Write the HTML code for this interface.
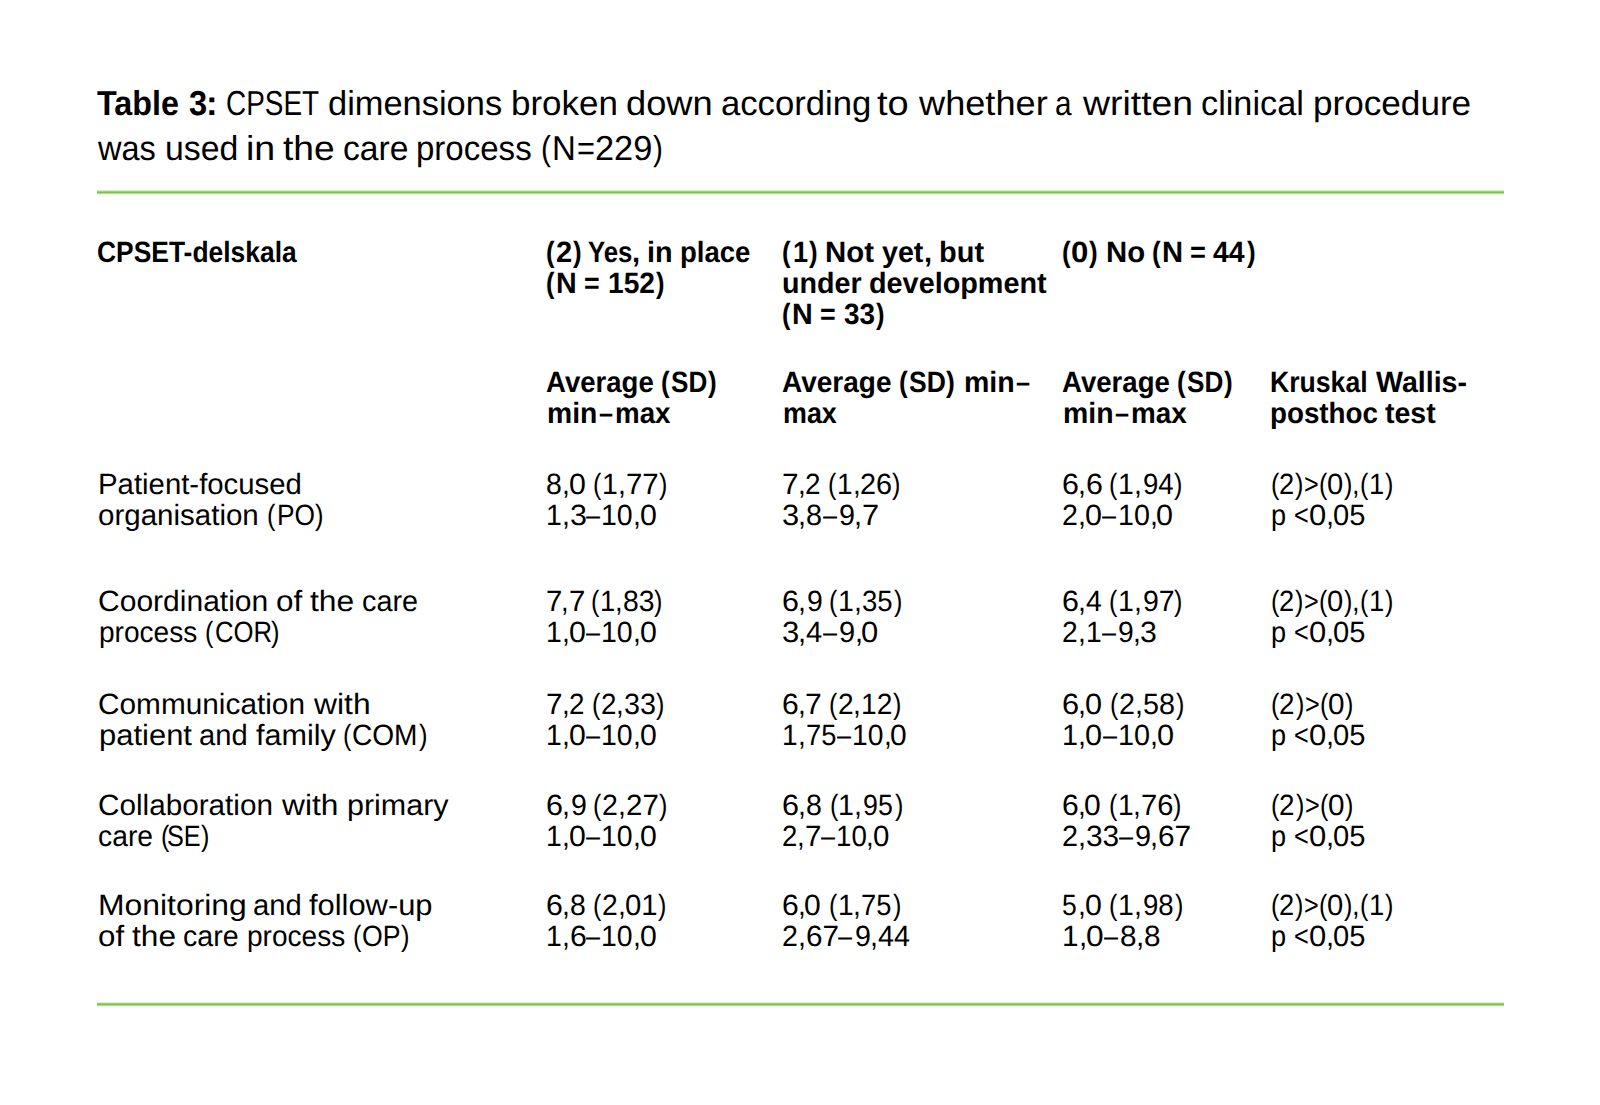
<!DOCTYPE html>
<html><head><meta charset="utf-8"><title>Table 3</title><style>
html,body{margin:0;padding:0;background:#fff}
body{width:1600px;height:1105px;overflow:hidden;position:relative;font-family:"Liberation Sans",sans-serif;color:#000}
.w{position:absolute;white-space:pre;line-height:0;transform-origin:0 0;text-rendering:geometricPrecision}
.b{font-weight:bold}
.t{font-size:34.6px}
.s{font-size:29.3px}
.g{position:absolute;left:97px;width:1407px;height:5px;background:linear-gradient(to bottom,rgba(125,194,75,.25) 0,rgba(125,194,75,.25) 20%,rgba(125,194,75,.78) 20%,rgba(125,194,75,.78) 40%,#7dc24b 40%,#7dc24b 60%,rgba(125,194,75,.6) 60%,rgba(125,194,75,.6) 80%,rgba(125,194,75,.12) 80%)}
</style></head><body>
<div class="w t b" style="left:97.00px;top:104.20px;transform:scaleX(0.9343)">Table</div>
<div class="w t b" style="left:189.19px;top:104.20px;transform:scaleX(0.9451)">3</div>
<div class="w t b" style="left:206.25px;top:104.20px;transform:scaleX(1.0007)">:</div>
<div class="w t" style="left:226.32px;top:104.20px;transform:scaleX(0.8070)">CPSET</div>
<div class="w t" style="left:328.08px;top:104.20px;transform:scaleX(0.9955)">dimensions</div>
<div class="w t" style="left:511.08px;top:104.20px;transform:scaleX(1.0119)">broken</div>
<div class="w t" style="left:626.00px;top:104.20px;transform:scaleX(1.0492)">down</div>
<div class="w t" style="left:720.63px;top:104.20px;transform:scaleX(1.0027)">according</div>
<div class="w t" style="left:877.36px;top:104.20px;transform:scaleX(1.1000)">to</div>
<div class="w t" style="left:918.53px;top:104.20px;transform:scaleX(1.0463)">whether</div>
<div class="w t" style="left:1054.78px;top:104.20px;transform:scaleX(0.8600)">a</div>
<div class="w t" style="left:1082.90px;top:104.20px;transform:scaleX(1.0813)">written</div>
<div class="w t" style="left:1200.87px;top:104.20px;transform:scaleX(0.9908)">clinical</div>
<div class="w t" style="left:1313.12px;top:104.20px;transform:scaleX(1.0156)">procedure</div>
<div class="w t" style="left:97.94px;top:149.20px;transform:scaleX(0.9405)">was</div>
<div class="w t" style="left:164.75px;top:149.20px;transform:scaleX(0.9782)">used</div>
<div class="w t" style="left:245.99px;top:149.20px;transform:scaleX(1.0867)">in</div>
<div class="w t" style="left:283.07px;top:149.20px;transform:scaleX(1.0757)">the</div>
<div class="w t" style="left:342.68px;top:149.20px;transform:scaleX(0.9726)">care</div>
<div class="w t" style="left:416.20px;top:149.20px;transform:scaleX(0.9552)">process</div>
<div class="w t" style="left:540.75px;top:149.20px;transform:scaleX(0.8600)">(</div>
<div class="w t" style="left:552.27px;top:149.20px;transform:scaleX(0.9534)">N</div>
<div class="w t" style="left:576.57px;top:149.20px;transform:scaleX(0.8898)">=</div>
<div class="w t" style="left:595.20px;top:149.20px;transform:scaleX(0.9944)">229</div>
<div class="w t" style="left:653.10px;top:149.20px;transform:scaleX(0.8600)">)</div>
<div class="w s b" style="left:97.10px;top:253.00px;transform:scaleX(0.9016)">CPSET-delskala</div>
<div class="w s b" style="left:546.12px;top:253.00px;transform:scaleX(0.8822)">(</div>
<div class="w s b" style="left:555.99px;top:253.00px;transform:scaleX(0.9925)">2</div>
<div class="w s b" style="left:573.23px;top:253.00px;transform:scaleX(0.8822)">)</div>
<div class="w s b" style="left:588.48px;top:253.00px;transform:scaleX(0.8785)">Yes</div>
<div class="w s b" style="left:632.48px;top:253.00px;transform:scaleX(0.9925)">,</div>
<div class="w s b" style="left:647.02px;top:253.00px;transform:scaleX(0.9836)">in</div>
<div class="w s b" style="left:680.36px;top:253.00px;transform:scaleX(0.9399)">place</div>
<div class="w s b" style="left:546.13px;top:284.00px;transform:scaleX(0.8693)">(</div>
<div class="w s b" style="left:555.86px;top:284.00px;transform:scaleX(0.9779)">N</div>
<div class="w s b" style="left:583.87px;top:284.00px;transform:scaleX(0.9127)">=</div>
<div class="w s b" style="left:607.67px;top:284.00px;transform:scaleX(0.9605)">152</div>
<div class="w s b" style="left:655.68px;top:284.00px;transform:scaleX(0.8693)">)</div>
<div class="w s b" style="left:782.12px;top:253.00px;transform:scaleX(0.8811)">(</div>
<div class="w s b" style="left:793.04px;top:253.00px;transform:scaleX(0.9251)">1</div>
<div class="w s b" style="left:809.20px;top:253.00px;transform:scaleX(0.8811)">)</div>
<div class="w s b" style="left:825.41px;top:253.00px;transform:scaleX(1.0032)">Not</div>
<div class="w s b" style="left:882.05px;top:253.00px;transform:scaleX(0.9769)">yet</div>
<div class="w s b" style="left:923.85px;top:253.00px;transform:scaleX(0.9912)">,</div>
<div class="w s b" style="left:939.34px;top:253.00px;transform:scaleX(0.9884)">but</div>
<div class="w s b" style="left:782.02px;top:284.00px;transform:scaleX(0.9788)">under</div>
<div class="w s b" style="left:869.09px;top:284.00px;transform:scaleX(0.9832)">development</div>
<div class="w s b" style="left:782.13px;top:315.00px;transform:scaleX(0.8711)">(</div>
<div class="w s b" style="left:791.88px;top:315.00px;transform:scaleX(0.9799)">N</div>
<div class="w s b" style="left:819.95px;top:315.00px;transform:scaleX(0.9146)">=</div>
<div class="w s b" style="left:843.78px;top:315.00px;transform:scaleX(0.9519)">33</div>
<div class="w s b" style="left:875.86px;top:315.00px;transform:scaleX(0.8711)">)</div>
<div class="w s b" style="left:1062.11px;top:253.00px;transform:scaleX(0.8866)">(</div>
<div class="w s b" style="left:1070.97px;top:253.00px;transform:scaleX(1.0639)">0</div>
<div class="w s b" style="left:1089.36px;top:253.00px;transform:scaleX(0.8866)">)</div>
<div class="w s b" style="left:1105.68px;top:253.00px;transform:scaleX(1.0006)">No</div>
<div class="w s b" style="left:1151.61px;top:253.00px;transform:scaleX(0.8866)">(</div>
<div class="w s b" style="left:1161.54px;top:253.00px;transform:scaleX(0.9974)">N</div>
<div class="w s b" style="left:1190.11px;top:253.00px;transform:scaleX(0.9309)">=</div>
<div class="w s b" style="left:1213.37px;top:253.00px;transform:scaleX(0.9697)">44</div>
<div class="w s b" style="left:1247.02px;top:253.00px;transform:scaleX(0.8866)">)</div>
<div class="w s b" style="left:546.00px;top:383.00px;transform:scaleX(0.9408)">Average</div>
<div class="w s b" style="left:661.14px;top:383.00px;transform:scaleX(0.8871)">(</div>
<div class="w s b" style="left:671.07px;top:383.00px;transform:scaleX(0.8900)">SD</div>
<div class="w s b" style="left:707.62px;top:383.00px;transform:scaleX(0.8871)">)</div>
<div class="w s b" style="left:547.03px;top:414.00px;transform:scaleX(0.9660)">min</div>
<div class="w s b" style="left:598.99px;top:414.00px;transform:scaleX(0.8600)">–</div>
<div class="w s b" style="left:615.07px;top:414.00px;transform:scaleX(0.9467)">max</div>
<div class="w s b" style="left:782.00px;top:383.00px;transform:scaleX(0.9557)">Average</div>
<div class="w s b" style="left:898.96px;top:383.00px;transform:scaleX(0.9011)">(</div>
<div class="w s b" style="left:909.05px;top:383.00px;transform:scaleX(0.9041)">SD</div>
<div class="w s b" style="left:946.17px;top:383.00px;transform:scaleX(0.9011)">)</div>
<div class="w s b" style="left:963.82px;top:383.00px;transform:scaleX(0.9737)">min</div>
<div class="w s b" style="left:1016.24px;top:383.00px;transform:scaleX(0.8600)">–</div>
<div class="w s b" style="left:783.08px;top:414.00px;transform:scaleX(0.9170)">max</div>
<div class="w s b" style="left:1062.00px;top:383.00px;transform:scaleX(0.9413)">Average</div>
<div class="w s b" style="left:1177.21px;top:383.00px;transform:scaleX(0.8876)">(</div>
<div class="w s b" style="left:1187.14px;top:383.00px;transform:scaleX(0.8906)">SD</div>
<div class="w s b" style="left:1223.71px;top:383.00px;transform:scaleX(0.8876)">)</div>
<div class="w s b" style="left:1063.03px;top:414.00px;transform:scaleX(0.9696)">min</div>
<div class="w s b" style="left:1115.20px;top:414.00px;transform:scaleX(0.8600)">–</div>
<div class="w s b" style="left:1131.31px;top:414.00px;transform:scaleX(0.9502)">max</div>
<div class="w s b" style="left:1270.09px;top:383.00px;transform:scaleX(0.9080)">Kruskal</div>
<div class="w s b" style="left:1375.93px;top:383.00px;transform:scaleX(0.9752)">Wallis-</div>
<div class="w s b" style="left:1270.05px;top:414.00px;transform:scaleX(0.9478)">posthoc</div>
<div class="w s b" style="left:1384.61px;top:414.00px;transform:scaleX(0.9722)">test</div>
<div class="w s" style="left:98.00px;top:485.00px;transform:scaleX(1.0016)">Patient-focused</div>
<div class="w s" style="left:97.99px;top:516.00px;transform:scaleX(1.0071)">organisation</div>
<div class="w s" style="left:267.42px;top:516.00px;transform:scaleX(0.8600)">(</div>
<div class="w s" style="left:276.62px;top:516.00px;transform:scaleX(0.8986)">PO</div>
<div class="w s" style="left:315.33px;top:516.00px;transform:scaleX(0.8712)">)</div>
<div class="w s" style="left:546.03px;top:485.00px;transform:scaleX(0.9700)">8</div>
<div class="w s" style="left:561.91px;top:485.00px;transform:scaleX(0.9700)">,</div>
<div class="w s" style="left:568.69px;top:485.00px;transform:scaleX(1.0347)">0</div>
<div class="w s" style="left:593.29px;top:485.00px;transform:scaleX(0.8600)">(</div>
<div class="w s" style="left:602.19px;top:485.00px;transform:scaleX(0.9700)">1</div>
<div class="w s" style="left:618.07px;top:485.00px;transform:scaleX(0.9700)">,</div>
<div class="w s" style="left:625.85px;top:485.00px;transform:scaleX(1.0045)">77</div>
<div class="w s" style="left:658.56px;top:485.00px;transform:scaleX(0.8600)">)</div>
<div class="w s" style="left:546.06px;top:516.00px;transform:scaleX(0.9706)">1</div>
<div class="w s" style="left:561.95px;top:516.00px;transform:scaleX(0.9706)">,</div>
<div class="w s" style="left:569.70px;top:516.00px;transform:scaleX(1.0400)">3</div>
<div class="w s" style="left:586.11px;top:516.00px;transform:scaleX(0.8600)">–</div>
<div class="w s" style="left:601.27px;top:516.00px;transform:scaleX(0.9731)">10</div>
<div class="w s" style="left:633.05px;top:516.00px;transform:scaleX(0.9706)">,</div>
<div class="w s" style="left:639.83px;top:516.00px;transform:scaleX(1.0353)">0</div>
<div class="w s" style="left:781.98px;top:485.00px;transform:scaleX(1.0183)">7</div>
<div class="w s" style="left:797.61px;top:485.00px;transform:scaleX(0.9504)">,</div>
<div class="w s" style="left:805.26px;top:485.00px;transform:scaleX(0.9504)">2</div>
<div class="w s" style="left:828.26px;top:485.00px;transform:scaleX(0.8600)">(</div>
<div class="w s" style="left:837.07px;top:485.00px;transform:scaleX(0.9504)">1</div>
<div class="w s" style="left:852.62px;top:485.00px;transform:scaleX(0.9504)">,</div>
<div class="w s" style="left:860.25px;top:485.00px;transform:scaleX(0.9841)">26</div>
<div class="w s" style="left:892.23px;top:485.00px;transform:scaleX(0.8600)">)</div>
<div class="w s" style="left:781.95px;top:516.00px;transform:scaleX(1.0513)">3</div>
<div class="w s" style="left:798.08px;top:516.00px;transform:scaleX(0.9812)">,</div>
<div class="w s" style="left:805.99px;top:516.00px;transform:scaleX(0.9812)">8</div>
<div class="w s" style="left:822.59px;top:516.00px;transform:scaleX(0.8600)">–</div>
<div class="w s" style="left:838.81px;top:516.00px;transform:scaleX(0.9812)">9</div>
<div class="w s" style="left:853.89px;top:516.00px;transform:scaleX(0.9812)">,</div>
<div class="w s" style="left:861.73px;top:516.00px;transform:scaleX(1.0513)">7</div>
<div class="w s" style="left:1061.96px;top:485.00px;transform:scaleX(1.0384)">6</div>
<div class="w s" style="left:1077.90px;top:485.00px;transform:scaleX(0.9692)">,</div>
<div class="w s" style="left:1085.64px;top:485.00px;transform:scaleX(1.0384)">6</div>
<div class="w s" style="left:1109.25px;top:485.00px;transform:scaleX(0.8600)">(</div>
<div class="w s" style="left:1118.14px;top:485.00px;transform:scaleX(0.9692)">1</div>
<div class="w s" style="left:1134.01px;top:485.00px;transform:scaleX(0.9692)">,</div>
<div class="w s" style="left:1142.81px;top:485.00px;transform:scaleX(0.9406)">94</div>
<div class="w s" style="left:1174.47px;top:485.00px;transform:scaleX(0.8600)">)</div>
<div class="w s" style="left:1062.02px;top:516.00px;transform:scaleX(0.9762)">2</div>
<div class="w s" style="left:1078.00px;top:516.00px;transform:scaleX(0.9762)">,</div>
<div class="w s" style="left:1084.83px;top:516.00px;transform:scaleX(1.0413)">0</div>
<div class="w s" style="left:1102.35px;top:516.00px;transform:scaleX(0.8600)">–</div>
<div class="w s" style="left:1117.55px;top:516.00px;transform:scaleX(0.9787)">10</div>
<div class="w s" style="left:1149.51px;top:516.00px;transform:scaleX(0.9762)">,</div>
<div class="w s" style="left:1156.34px;top:516.00px;transform:scaleX(1.0413)">0</div>
<div class="w s" style="left:1270.53px;top:485.00px;transform:scaleX(0.8600)">(</div>
<div class="w s" style="left:1279.27px;top:485.00px;transform:scaleX(0.9328)">2</div>
<div class="w s" style="left:1295.30px;top:485.00px;transform:scaleX(0.8600)">)</div>
<div class="w s" style="left:1304.29px;top:485.00px;transform:scaleX(0.8600)">&gt;</div>
<div class="w s" style="left:1319.08px;top:485.00px;transform:scaleX(0.8600)">(</div>
<div class="w s" style="left:1326.82px;top:485.00px;transform:scaleX(0.9950)">0</div>
<div class="w s" style="left:1343.84px;top:485.00px;transform:scaleX(0.8600)">)</div>
<div class="w s" style="left:1352.22px;top:485.00px;transform:scaleX(0.9328)">,</div>
<div class="w s" style="left:1360.13px;top:485.00px;transform:scaleX(0.8600)">(</div>
<div class="w s" style="left:1368.87px;top:485.00px;transform:scaleX(0.9328)">1</div>
<div class="w s" style="left:1384.90px;top:485.00px;transform:scaleX(0.8600)">)</div>
<div class="w s" style="left:1271.08px;top:516.00px;transform:scaleX(0.9249)">p</div>
<div class="w s" style="left:1294.19px;top:516.00px;transform:scaleX(0.8600)">&lt;</div>
<div class="w s" style="left:1308.95px;top:516.00px;transform:scaleX(1.0570)">0</div>
<div class="w s" style="left:1326.23px;top:516.00px;transform:scaleX(0.9909)">,</div>
<div class="w s" style="left:1333.22px;top:516.00px;transform:scaleX(0.9933)">05</div>
<div class="w s" style="left:97.98px;top:602.00px;transform:scaleX(1.0247)">Coordination</div>
<div class="w s" style="left:276.09px;top:602.00px;transform:scaleX(1.0730)">of</div>
<div class="w s" style="left:310.40px;top:602.00px;transform:scaleX(1.0866)">the</div>
<div class="w s" style="left:361.65px;top:602.00px;transform:scaleX(0.9830)">care</div>
<div class="w s" style="left:99.04px;top:633.00px;transform:scaleX(0.9583)">process</div>
<div class="w s" style="left:205.38px;top:633.00px;transform:scaleX(0.8600)">(</div>
<div class="w s" style="left:214.51px;top:633.00px;transform:scaleX(0.8755)">COR</div>
<div class="w s" style="left:271.03px;top:633.00px;transform:scaleX(0.8717)">)</div>
<div class="w s" style="left:546.00px;top:602.00px;transform:scaleX(1.0016)">7</div>
<div class="w s" style="left:561.37px;top:602.00px;transform:scaleX(0.9348)">,</div>
<div class="w s" style="left:568.83px;top:602.00px;transform:scaleX(1.0016)">7</div>
<div class="w s" style="left:591.44px;top:602.00px;transform:scaleX(0.8600)">(</div>
<div class="w s" style="left:600.18px;top:602.00px;transform:scaleX(0.9348)">1</div>
<div class="w s" style="left:615.48px;top:602.00px;transform:scaleX(0.9348)">,</div>
<div class="w s" style="left:622.98px;top:602.00px;transform:scaleX(0.9680)">83</div>
<div class="w s" style="left:654.39px;top:602.00px;transform:scaleX(0.8600)">)</div>
<div class="w s" style="left:546.06px;top:633.00px;transform:scaleX(0.9706)">1</div>
<div class="w s" style="left:561.95px;top:633.00px;transform:scaleX(0.9706)">,</div>
<div class="w s" style="left:568.73px;top:633.00px;transform:scaleX(1.0353)">0</div>
<div class="w s" style="left:586.11px;top:633.00px;transform:scaleX(0.8600)">–</div>
<div class="w s" style="left:601.27px;top:633.00px;transform:scaleX(0.9731)">10</div>
<div class="w s" style="left:633.05px;top:633.00px;transform:scaleX(0.9706)">,</div>
<div class="w s" style="left:639.83px;top:633.00px;transform:scaleX(1.0353)">0</div>
<div class="w s" style="left:781.96px;top:602.00px;transform:scaleX(1.0384)">6</div>
<div class="w s" style="left:797.90px;top:602.00px;transform:scaleX(0.9692)">,</div>
<div class="w s" style="left:806.68px;top:602.00px;transform:scaleX(0.9692)">9</div>
<div class="w s" style="left:829.25px;top:602.00px;transform:scaleX(0.8600)">(</div>
<div class="w s" style="left:838.14px;top:602.00px;transform:scaleX(0.9692)">1</div>
<div class="w s" style="left:854.01px;top:602.00px;transform:scaleX(0.9692)">,</div>
<div class="w s" style="left:861.84px;top:602.00px;transform:scaleX(0.9406)">35</div>
<div class="w s" style="left:894.47px;top:602.00px;transform:scaleX(0.8600)">)</div>
<div class="w s" style="left:781.94px;top:633.00px;transform:scaleX(1.0613)">3</div>
<div class="w s" style="left:798.22px;top:633.00px;transform:scaleX(0.9906)">,</div>
<div class="w s" style="left:806.21px;top:633.00px;transform:scaleX(0.9906)">4</div>
<div class="w s" style="left:823.04px;top:633.00px;transform:scaleX(0.8600)">–</div>
<div class="w s" style="left:839.34px;top:633.00px;transform:scaleX(0.9906)">9</div>
<div class="w s" style="left:854.57px;top:633.00px;transform:scaleX(0.9906)">,</div>
<div class="w s" style="left:861.49px;top:633.00px;transform:scaleX(1.0566)">0</div>
<div class="w s" style="left:1061.96px;top:602.00px;transform:scaleX(1.0384)">6</div>
<div class="w s" style="left:1077.90px;top:602.00px;transform:scaleX(0.9692)">,</div>
<div class="w s" style="left:1085.71px;top:602.00px;transform:scaleX(0.9692)">4</div>
<div class="w s" style="left:1109.25px;top:602.00px;transform:scaleX(0.8600)">(</div>
<div class="w s" style="left:1118.14px;top:602.00px;transform:scaleX(0.9692)">1</div>
<div class="w s" style="left:1134.01px;top:602.00px;transform:scaleX(0.9692)">,</div>
<div class="w s" style="left:1142.78px;top:602.00px;transform:scaleX(0.9716)">97</div>
<div class="w s" style="left:1174.47px;top:602.00px;transform:scaleX(0.8600)">)</div>
<div class="w s" style="left:1062.04px;top:633.00px;transform:scaleX(0.9636)">2</div>
<div class="w s" style="left:1077.81px;top:633.00px;transform:scaleX(0.9636)">,</div>
<div class="w s" style="left:1085.57px;top:633.00px;transform:scaleX(0.9636)">1</div>
<div class="w s" style="left:1101.74px;top:633.00px;transform:scaleX(0.8600)">–</div>
<div class="w s" style="left:1117.81px;top:633.00px;transform:scaleX(0.9636)">9</div>
<div class="w s" style="left:1132.62px;top:633.00px;transform:scaleX(0.9636)">,</div>
<div class="w s" style="left:1140.31px;top:633.00px;transform:scaleX(1.0324)">3</div>
<div class="w s" style="left:1270.53px;top:602.00px;transform:scaleX(0.8600)">(</div>
<div class="w s" style="left:1279.27px;top:602.00px;transform:scaleX(0.9328)">2</div>
<div class="w s" style="left:1295.30px;top:602.00px;transform:scaleX(0.8600)">)</div>
<div class="w s" style="left:1304.29px;top:602.00px;transform:scaleX(0.8600)">&gt;</div>
<div class="w s" style="left:1319.08px;top:602.00px;transform:scaleX(0.8600)">(</div>
<div class="w s" style="left:1326.82px;top:602.00px;transform:scaleX(0.9950)">0</div>
<div class="w s" style="left:1343.84px;top:602.00px;transform:scaleX(0.8600)">)</div>
<div class="w s" style="left:1352.22px;top:602.00px;transform:scaleX(0.9328)">,</div>
<div class="w s" style="left:1360.13px;top:602.00px;transform:scaleX(0.8600)">(</div>
<div class="w s" style="left:1368.87px;top:602.00px;transform:scaleX(0.9328)">1</div>
<div class="w s" style="left:1384.90px;top:602.00px;transform:scaleX(0.8600)">)</div>
<div class="w s" style="left:1271.08px;top:633.00px;transform:scaleX(0.9249)">p</div>
<div class="w s" style="left:1294.19px;top:633.00px;transform:scaleX(0.8600)">&lt;</div>
<div class="w s" style="left:1308.95px;top:633.00px;transform:scaleX(1.0570)">0</div>
<div class="w s" style="left:1326.23px;top:633.00px;transform:scaleX(0.9909)">,</div>
<div class="w s" style="left:1333.22px;top:633.00px;transform:scaleX(0.9933)">05</div>
<div class="w s" style="left:97.98px;top:704.50px;transform:scaleX(1.0170)">Communication</div>
<div class="w s" style="left:314.00px;top:704.50px;transform:scaleX(1.0864)">with</div>
<div class="w s" style="left:98.94px;top:735.50px;transform:scaleX(1.0570)">patient</div>
<div class="w s" style="left:198.88px;top:735.50px;transform:scaleX(0.9957)">and</div>
<div class="w s" style="left:255.52px;top:735.50px;transform:scaleX(1.0439)">family</div>
<div class="w s" style="left:343.43px;top:735.50px;transform:scaleX(0.8600)">(</div>
<div class="w s" style="left:352.49px;top:735.50px;transform:scaleX(0.9585)">COM</div>
<div class="w s" style="left:419.31px;top:735.50px;transform:scaleX(0.8740)">)</div>
<div class="w s" style="left:545.99px;top:704.50px;transform:scaleX(1.0147)">7</div>
<div class="w s" style="left:561.56px;top:704.50px;transform:scaleX(0.9471)">,</div>
<div class="w s" style="left:569.19px;top:704.50px;transform:scaleX(0.9471)">2</div>
<div class="w s" style="left:592.09px;top:704.50px;transform:scaleX(0.8600)">(</div>
<div class="w s" style="left:600.88px;top:704.50px;transform:scaleX(0.9471)">2</div>
<div class="w s" style="left:616.38px;top:704.50px;transform:scaleX(0.9471)">,</div>
<div class="w s" style="left:623.98px;top:704.50px;transform:scaleX(0.9807)">33</div>
<div class="w s" style="left:655.85px;top:704.50px;transform:scaleX(0.8600)">)</div>
<div class="w s" style="left:546.07px;top:735.50px;transform:scaleX(0.9671)">1</div>
<div class="w s" style="left:561.90px;top:735.50px;transform:scaleX(0.9671)">,</div>
<div class="w s" style="left:568.66px;top:735.50px;transform:scaleX(1.0315)">0</div>
<div class="w s" style="left:585.95px;top:735.50px;transform:scaleX(0.8600)">–</div>
<div class="w s" style="left:601.07px;top:735.50px;transform:scaleX(0.9695)">10</div>
<div class="w s" style="left:632.73px;top:735.50px;transform:scaleX(0.9671)">,</div>
<div class="w s" style="left:639.50px;top:735.50px;transform:scaleX(1.0315)">0</div>
<div class="w s" style="left:781.97px;top:704.50px;transform:scaleX(1.0288)">6</div>
<div class="w s" style="left:797.76px;top:704.50px;transform:scaleX(0.9602)">,</div>
<div class="w s" style="left:805.43px;top:704.50px;transform:scaleX(1.0288)">7</div>
<div class="w s" style="left:828.78px;top:704.50px;transform:scaleX(0.8600)">(</div>
<div class="w s" style="left:837.63px;top:704.50px;transform:scaleX(0.9602)">2</div>
<div class="w s" style="left:853.35px;top:704.50px;transform:scaleX(0.9602)">,</div>
<div class="w s" style="left:861.08px;top:704.50px;transform:scaleX(0.9627)">12</div>
<div class="w s" style="left:893.40px;top:704.50px;transform:scaleX(0.8600)">)</div>
<div class="w s" style="left:782.08px;top:735.50px;transform:scaleX(0.9590)">1</div>
<div class="w s" style="left:797.78px;top:735.50px;transform:scaleX(0.9590)">,</div>
<div class="w s" style="left:805.54px;top:735.50px;transform:scaleX(0.9307)">75</div>
<div class="w s" style="left:837.27px;top:735.50px;transform:scaleX(0.8600)">–</div>
<div class="w s" style="left:852.33px;top:735.50px;transform:scaleX(0.9614)">10</div>
<div class="w s" style="left:883.73px;top:735.50px;transform:scaleX(0.9590)">,</div>
<div class="w s" style="left:890.43px;top:735.50px;transform:scaleX(1.0229)">0</div>
<div class="w s" style="left:1061.95px;top:704.50px;transform:scaleX(1.0499)">6</div>
<div class="w s" style="left:1078.06px;top:704.50px;transform:scaleX(0.9799)">,</div>
<div class="w s" style="left:1084.91px;top:704.50px;transform:scaleX(1.0452)">0</div>
<div class="w s" style="left:1109.81px;top:704.50px;transform:scaleX(0.8600)">(</div>
<div class="w s" style="left:1118.75px;top:704.50px;transform:scaleX(0.9799)">2</div>
<div class="w s" style="left:1134.79px;top:704.50px;transform:scaleX(0.9799)">,</div>
<div class="w s" style="left:1142.68px;top:704.50px;transform:scaleX(0.9822)">58</div>
<div class="w s" style="left:1175.73px;top:704.50px;transform:scaleX(0.8600)">)</div>
<div class="w s" style="left:1062.04px;top:735.50px;transform:scaleX(0.9814)">1</div>
<div class="w s" style="left:1078.10px;top:735.50px;transform:scaleX(0.9814)">,</div>
<div class="w s" style="left:1084.96px;top:735.50px;transform:scaleX(1.0468)">0</div>
<div class="w s" style="left:1102.62px;top:735.50px;transform:scaleX(0.8600)">–</div>
<div class="w s" style="left:1117.86px;top:735.50px;transform:scaleX(0.9838)">10</div>
<div class="w s" style="left:1149.99px;top:735.50px;transform:scaleX(0.9814)">,</div>
<div class="w s" style="left:1156.85px;top:735.50px;transform:scaleX(1.0468)">0</div>
<div class="w s" style="left:1270.60px;top:704.50px;transform:scaleX(0.8600)">(</div>
<div class="w s" style="left:1279.40px;top:704.50px;transform:scaleX(0.9501)">2</div>
<div class="w s" style="left:1295.79px;top:704.50px;transform:scaleX(0.8600)">)</div>
<div class="w s" style="left:1305.03px;top:704.50px;transform:scaleX(0.8600)">&gt;</div>
<div class="w s" style="left:1320.04px;top:704.50px;transform:scaleX(0.8600)">(</div>
<div class="w s" style="left:1327.83px;top:704.50px;transform:scaleX(1.0134)">0</div>
<div class="w s" style="left:1345.23px;top:704.50px;transform:scaleX(0.8600)">)</div>
<div class="w s" style="left:1271.07px;top:735.50px;transform:scaleX(0.9259)">p</div>
<div class="w s" style="left:1294.22px;top:735.50px;transform:scaleX(0.8600)">&lt;</div>
<div class="w s" style="left:1308.99px;top:735.50px;transform:scaleX(1.0581)">0</div>
<div class="w s" style="left:1326.29px;top:735.50px;transform:scaleX(0.9920)">,</div>
<div class="w s" style="left:1333.29px;top:735.50px;transform:scaleX(0.9944)">05</div>
<div class="w s" style="left:97.99px;top:806.00px;transform:scaleX(1.0132)">Collaboration</div>
<div class="w s" style="left:281.90px;top:806.00px;transform:scaleX(1.0824)">with</div>
<div class="w s" style="left:347.07px;top:806.00px;transform:scaleX(1.0399)">primary</div>
<div class="w s" style="left:98.03px;top:837.00px;transform:scaleX(0.9659)">care</div>
<div class="w s" style="left:160.75px;top:837.00px;transform:scaleX(0.8600)">(</div>
<div class="w s" style="left:167.39px;top:837.00px;transform:scaleX(0.8600)">SE</div>
<div class="w s" style="left:200.81px;top:837.00px;transform:scaleX(0.8610)">)</div>
<div class="w s" style="left:545.96px;top:806.00px;transform:scaleX(1.0428)">6</div>
<div class="w s" style="left:561.96px;top:806.00px;transform:scaleX(0.9733)">,</div>
<div class="w s" style="left:570.78px;top:806.00px;transform:scaleX(0.9733)">9</div>
<div class="w s" style="left:593.46px;top:806.00px;transform:scaleX(0.8600)">(</div>
<div class="w s" style="left:602.37px;top:806.00px;transform:scaleX(0.9733)">2</div>
<div class="w s" style="left:618.31px;top:806.00px;transform:scaleX(0.9733)">,</div>
<div class="w s" style="left:626.11px;top:806.00px;transform:scaleX(1.0079)">27</div>
<div class="w s" style="left:658.95px;top:806.00px;transform:scaleX(0.8600)">)</div>
<div class="w s" style="left:546.07px;top:837.00px;transform:scaleX(0.9671)">1</div>
<div class="w s" style="left:561.90px;top:837.00px;transform:scaleX(0.9671)">,</div>
<div class="w s" style="left:568.66px;top:837.00px;transform:scaleX(1.0315)">0</div>
<div class="w s" style="left:585.95px;top:837.00px;transform:scaleX(0.8600)">–</div>
<div class="w s" style="left:601.07px;top:837.00px;transform:scaleX(0.9695)">10</div>
<div class="w s" style="left:632.73px;top:837.00px;transform:scaleX(0.9671)">,</div>
<div class="w s" style="left:639.50px;top:837.00px;transform:scaleX(1.0315)">0</div>
<div class="w s" style="left:781.96px;top:806.00px;transform:scaleX(1.0437)">6</div>
<div class="w s" style="left:797.97px;top:806.00px;transform:scaleX(0.9741)">,</div>
<div class="w s" style="left:805.82px;top:806.00px;transform:scaleX(0.9741)">8</div>
<div class="w s" style="left:829.51px;top:806.00px;transform:scaleX(0.8600)">(</div>
<div class="w s" style="left:838.42px;top:806.00px;transform:scaleX(0.9741)">1</div>
<div class="w s" style="left:854.37px;top:806.00px;transform:scaleX(0.9741)">,</div>
<div class="w s" style="left:863.25px;top:806.00px;transform:scaleX(0.9142)">95</div>
<div class="w s" style="left:895.05px;top:806.00px;transform:scaleX(0.8600)">)</div>
<div class="w s" style="left:782.06px;top:837.00px;transform:scaleX(0.9416)">2</div>
<div class="w s" style="left:797.47px;top:837.00px;transform:scaleX(0.9416)">,</div>
<div class="w s" style="left:804.99px;top:837.00px;transform:scaleX(1.0089)">7</div>
<div class="w s" style="left:820.70px;top:837.00px;transform:scaleX(0.8600)">–</div>
<div class="w s" style="left:835.61px;top:837.00px;transform:scaleX(0.9440)">10</div>
<div class="w s" style="left:866.45px;top:837.00px;transform:scaleX(0.9416)">,</div>
<div class="w s" style="left:873.03px;top:837.00px;transform:scaleX(1.0044)">0</div>
<div class="w s" style="left:1061.97px;top:806.00px;transform:scaleX(1.0288)">6</div>
<div class="w s" style="left:1077.76px;top:806.00px;transform:scaleX(0.9602)">,</div>
<div class="w s" style="left:1084.47px;top:806.00px;transform:scaleX(1.0242)">0</div>
<div class="w s" style="left:1108.78px;top:806.00px;transform:scaleX(0.8600)">(</div>
<div class="w s" style="left:1117.63px;top:806.00px;transform:scaleX(0.9602)">1</div>
<div class="w s" style="left:1133.35px;top:806.00px;transform:scaleX(0.9602)">,</div>
<div class="w s" style="left:1141.05px;top:806.00px;transform:scaleX(0.9943)">76</div>
<div class="w s" style="left:1173.40px;top:806.00px;transform:scaleX(0.8600)">)</div>
<div class="w s" style="left:1062.02px;top:837.00px;transform:scaleX(0.9841)">2</div>
<div class="w s" style="left:1078.13px;top:837.00px;transform:scaleX(0.9841)">,</div>
<div class="w s" style="left:1086.02px;top:837.00px;transform:scaleX(1.0191)">33</div>
<div class="w s" style="left:1118.84px;top:837.00px;transform:scaleX(0.8600)">–</div>
<div class="w s" style="left:1135.09px;top:837.00px;transform:scaleX(0.9841)">9</div>
<div class="w s" style="left:1150.21px;top:837.00px;transform:scaleX(0.9841)">,</div>
<div class="w s" style="left:1158.11px;top:837.00px;transform:scaleX(1.0191)">67</div>
<div class="w s" style="left:1270.60px;top:806.00px;transform:scaleX(0.8600)">(</div>
<div class="w s" style="left:1279.40px;top:806.00px;transform:scaleX(0.9501)">2</div>
<div class="w s" style="left:1295.79px;top:806.00px;transform:scaleX(0.8600)">)</div>
<div class="w s" style="left:1305.03px;top:806.00px;transform:scaleX(0.8600)">&gt;</div>
<div class="w s" style="left:1320.04px;top:806.00px;transform:scaleX(0.8600)">(</div>
<div class="w s" style="left:1327.83px;top:806.00px;transform:scaleX(1.0134)">0</div>
<div class="w s" style="left:1345.23px;top:806.00px;transform:scaleX(0.8600)">)</div>
<div class="w s" style="left:1271.07px;top:837.00px;transform:scaleX(0.9259)">p</div>
<div class="w s" style="left:1294.22px;top:837.00px;transform:scaleX(0.8600)">&lt;</div>
<div class="w s" style="left:1308.99px;top:837.00px;transform:scaleX(1.0581)">0</div>
<div class="w s" style="left:1326.29px;top:837.00px;transform:scaleX(0.9920)">,</div>
<div class="w s" style="left:1333.29px;top:837.00px;transform:scaleX(0.9944)">05</div>
<div class="w s" style="left:97.82px;top:905.50px;transform:scaleX(1.0876)">Monitoring</div>
<div class="w s" style="left:252.70px;top:905.50px;transform:scaleX(0.9968)">and</div>
<div class="w s" style="left:309.40px;top:905.50px;transform:scaleX(1.0534)">follow-up</div>
<div class="w s" style="left:97.93px;top:937.00px;transform:scaleX(1.0664)">of</div>
<div class="w s" style="left:132.03px;top:937.00px;transform:scaleX(1.0798)">the</div>
<div class="w s" style="left:182.96px;top:937.00px;transform:scaleX(0.9769)">care</div>
<div class="w s" style="left:246.73px;top:937.00px;transform:scaleX(0.9573)">process</div>
<div class="w s" style="left:352.95px;top:937.00px;transform:scaleX(0.8600)">(</div>
<div class="w s" style="left:362.04px;top:937.00px;transform:scaleX(0.9100)">OP</div>
<div class="w s" style="left:400.83px;top:937.00px;transform:scaleX(0.8708)">)</div>
<div class="w s" style="left:545.96px;top:905.50px;transform:scaleX(1.0358)">6</div>
<div class="w s" style="left:561.86px;top:905.50px;transform:scaleX(0.9668)">,</div>
<div class="w s" style="left:569.65px;top:905.50px;transform:scaleX(0.9668)">8</div>
<div class="w s" style="left:593.12px;top:905.50px;transform:scaleX(0.8600)">(</div>
<div class="w s" style="left:602.00px;top:905.50px;transform:scaleX(0.9668)">2</div>
<div class="w s" style="left:617.83px;top:905.50px;transform:scaleX(0.9668)">,</div>
<div class="w s" style="left:624.61px;top:905.50px;transform:scaleX(1.0011)">01</div>
<div class="w s" style="left:658.18px;top:905.50px;transform:scaleX(0.8600)">)</div>
<div class="w s" style="left:546.07px;top:937.00px;transform:scaleX(0.9671)">1</div>
<div class="w s" style="left:561.90px;top:937.00px;transform:scaleX(0.9671)">,</div>
<div class="w s" style="left:569.62px;top:937.00px;transform:scaleX(1.0361)">6</div>
<div class="w s" style="left:585.95px;top:937.00px;transform:scaleX(0.8600)">–</div>
<div class="w s" style="left:601.07px;top:937.00px;transform:scaleX(0.9695)">10</div>
<div class="w s" style="left:632.73px;top:937.00px;transform:scaleX(0.9671)">,</div>
<div class="w s" style="left:639.50px;top:937.00px;transform:scaleX(1.0315)">0</div>
<div class="w s" style="left:781.97px;top:905.50px;transform:scaleX(1.0288)">6</div>
<div class="w s" style="left:797.76px;top:905.50px;transform:scaleX(0.9602)">,</div>
<div class="w s" style="left:804.47px;top:905.50px;transform:scaleX(1.0242)">0</div>
<div class="w s" style="left:828.78px;top:905.50px;transform:scaleX(0.8600)">(</div>
<div class="w s" style="left:837.63px;top:905.50px;transform:scaleX(0.9602)">1</div>
<div class="w s" style="left:853.35px;top:905.50px;transform:scaleX(0.9602)">,</div>
<div class="w s" style="left:861.11px;top:905.50px;transform:scaleX(0.9318)">75</div>
<div class="w s" style="left:893.40px;top:905.50px;transform:scaleX(0.8600)">)</div>
<div class="w s" style="left:782.02px;top:937.00px;transform:scaleX(0.9779)">2</div>
<div class="w s" style="left:798.03px;top:937.00px;transform:scaleX(0.9779)">,</div>
<div class="w s" style="left:805.88px;top:937.00px;transform:scaleX(1.0127)">67</div>
<div class="w s" style="left:838.44px;top:937.00px;transform:scaleX(0.8600)">–</div>
<div class="w s" style="left:854.63px;top:937.00px;transform:scaleX(0.9779)">9</div>
<div class="w s" style="left:869.66px;top:937.00px;transform:scaleX(0.9779)">,</div>
<div class="w s" style="left:877.55px;top:937.00px;transform:scaleX(0.9802)">44</div>
<div class="w s" style="left:1062.09px;top:905.50px;transform:scaleX(0.9054)">5</div>
<div class="w s" style="left:1077.91px;top:905.50px;transform:scaleX(0.9700)">,</div>
<div class="w s" style="left:1084.69px;top:905.50px;transform:scaleX(1.0347)">0</div>
<div class="w s" style="left:1109.29px;top:905.50px;transform:scaleX(0.8600)">(</div>
<div class="w s" style="left:1118.19px;top:905.50px;transform:scaleX(0.9700)">1</div>
<div class="w s" style="left:1134.07px;top:905.50px;transform:scaleX(0.9700)">,</div>
<div class="w s" style="left:1142.88px;top:905.50px;transform:scaleX(0.9414)">98</div>
<div class="w s" style="left:1174.56px;top:905.50px;transform:scaleX(0.8600)">)</div>
<div class="w s" style="left:1061.97px;top:937.00px;transform:scaleX(1.0135)">1</div>
<div class="w s" style="left:1078.56px;top:937.00px;transform:scaleX(1.0135)">,</div>
<div class="w s" style="left:1085.65px;top:937.00px;transform:scaleX(1.0811)">0</div>
<div class="w s" style="left:1104.12px;top:937.00px;transform:scaleX(0.8600)">–</div>
<div class="w s" style="left:1119.63px;top:937.00px;transform:scaleX(1.0135)">8</div>
<div class="w s" style="left:1136.22px;top:937.00px;transform:scaleX(1.0135)">,</div>
<div class="w s" style="left:1144.38px;top:937.00px;transform:scaleX(1.0135)">8</div>
<div class="w s" style="left:1270.53px;top:905.50px;transform:scaleX(0.8600)">(</div>
<div class="w s" style="left:1279.27px;top:905.50px;transform:scaleX(0.9328)">2</div>
<div class="w s" style="left:1295.30px;top:905.50px;transform:scaleX(0.8600)">)</div>
<div class="w s" style="left:1304.29px;top:905.50px;transform:scaleX(0.8600)">&gt;</div>
<div class="w s" style="left:1319.08px;top:905.50px;transform:scaleX(0.8600)">(</div>
<div class="w s" style="left:1326.82px;top:905.50px;transform:scaleX(0.9950)">0</div>
<div class="w s" style="left:1343.84px;top:905.50px;transform:scaleX(0.8600)">)</div>
<div class="w s" style="left:1352.22px;top:905.50px;transform:scaleX(0.9328)">,</div>
<div class="w s" style="left:1360.13px;top:905.50px;transform:scaleX(0.8600)">(</div>
<div class="w s" style="left:1368.87px;top:905.50px;transform:scaleX(0.9328)">1</div>
<div class="w s" style="left:1384.90px;top:905.50px;transform:scaleX(0.8600)">)</div>
<div class="w s" style="left:1271.07px;top:937.00px;transform:scaleX(0.9259)">p</div>
<div class="w s" style="left:1294.22px;top:937.00px;transform:scaleX(0.8600)">&lt;</div>
<div class="w s" style="left:1308.99px;top:937.00px;transform:scaleX(1.0581)">0</div>
<div class="w s" style="left:1326.29px;top:937.00px;transform:scaleX(0.9920)">,</div>
<div class="w s" style="left:1333.29px;top:937.00px;transform:scaleX(0.9944)">05</div>
<div class="g" style="top:190px"></div>
<div class="g" style="top:1002px"></div>
</body></html>
